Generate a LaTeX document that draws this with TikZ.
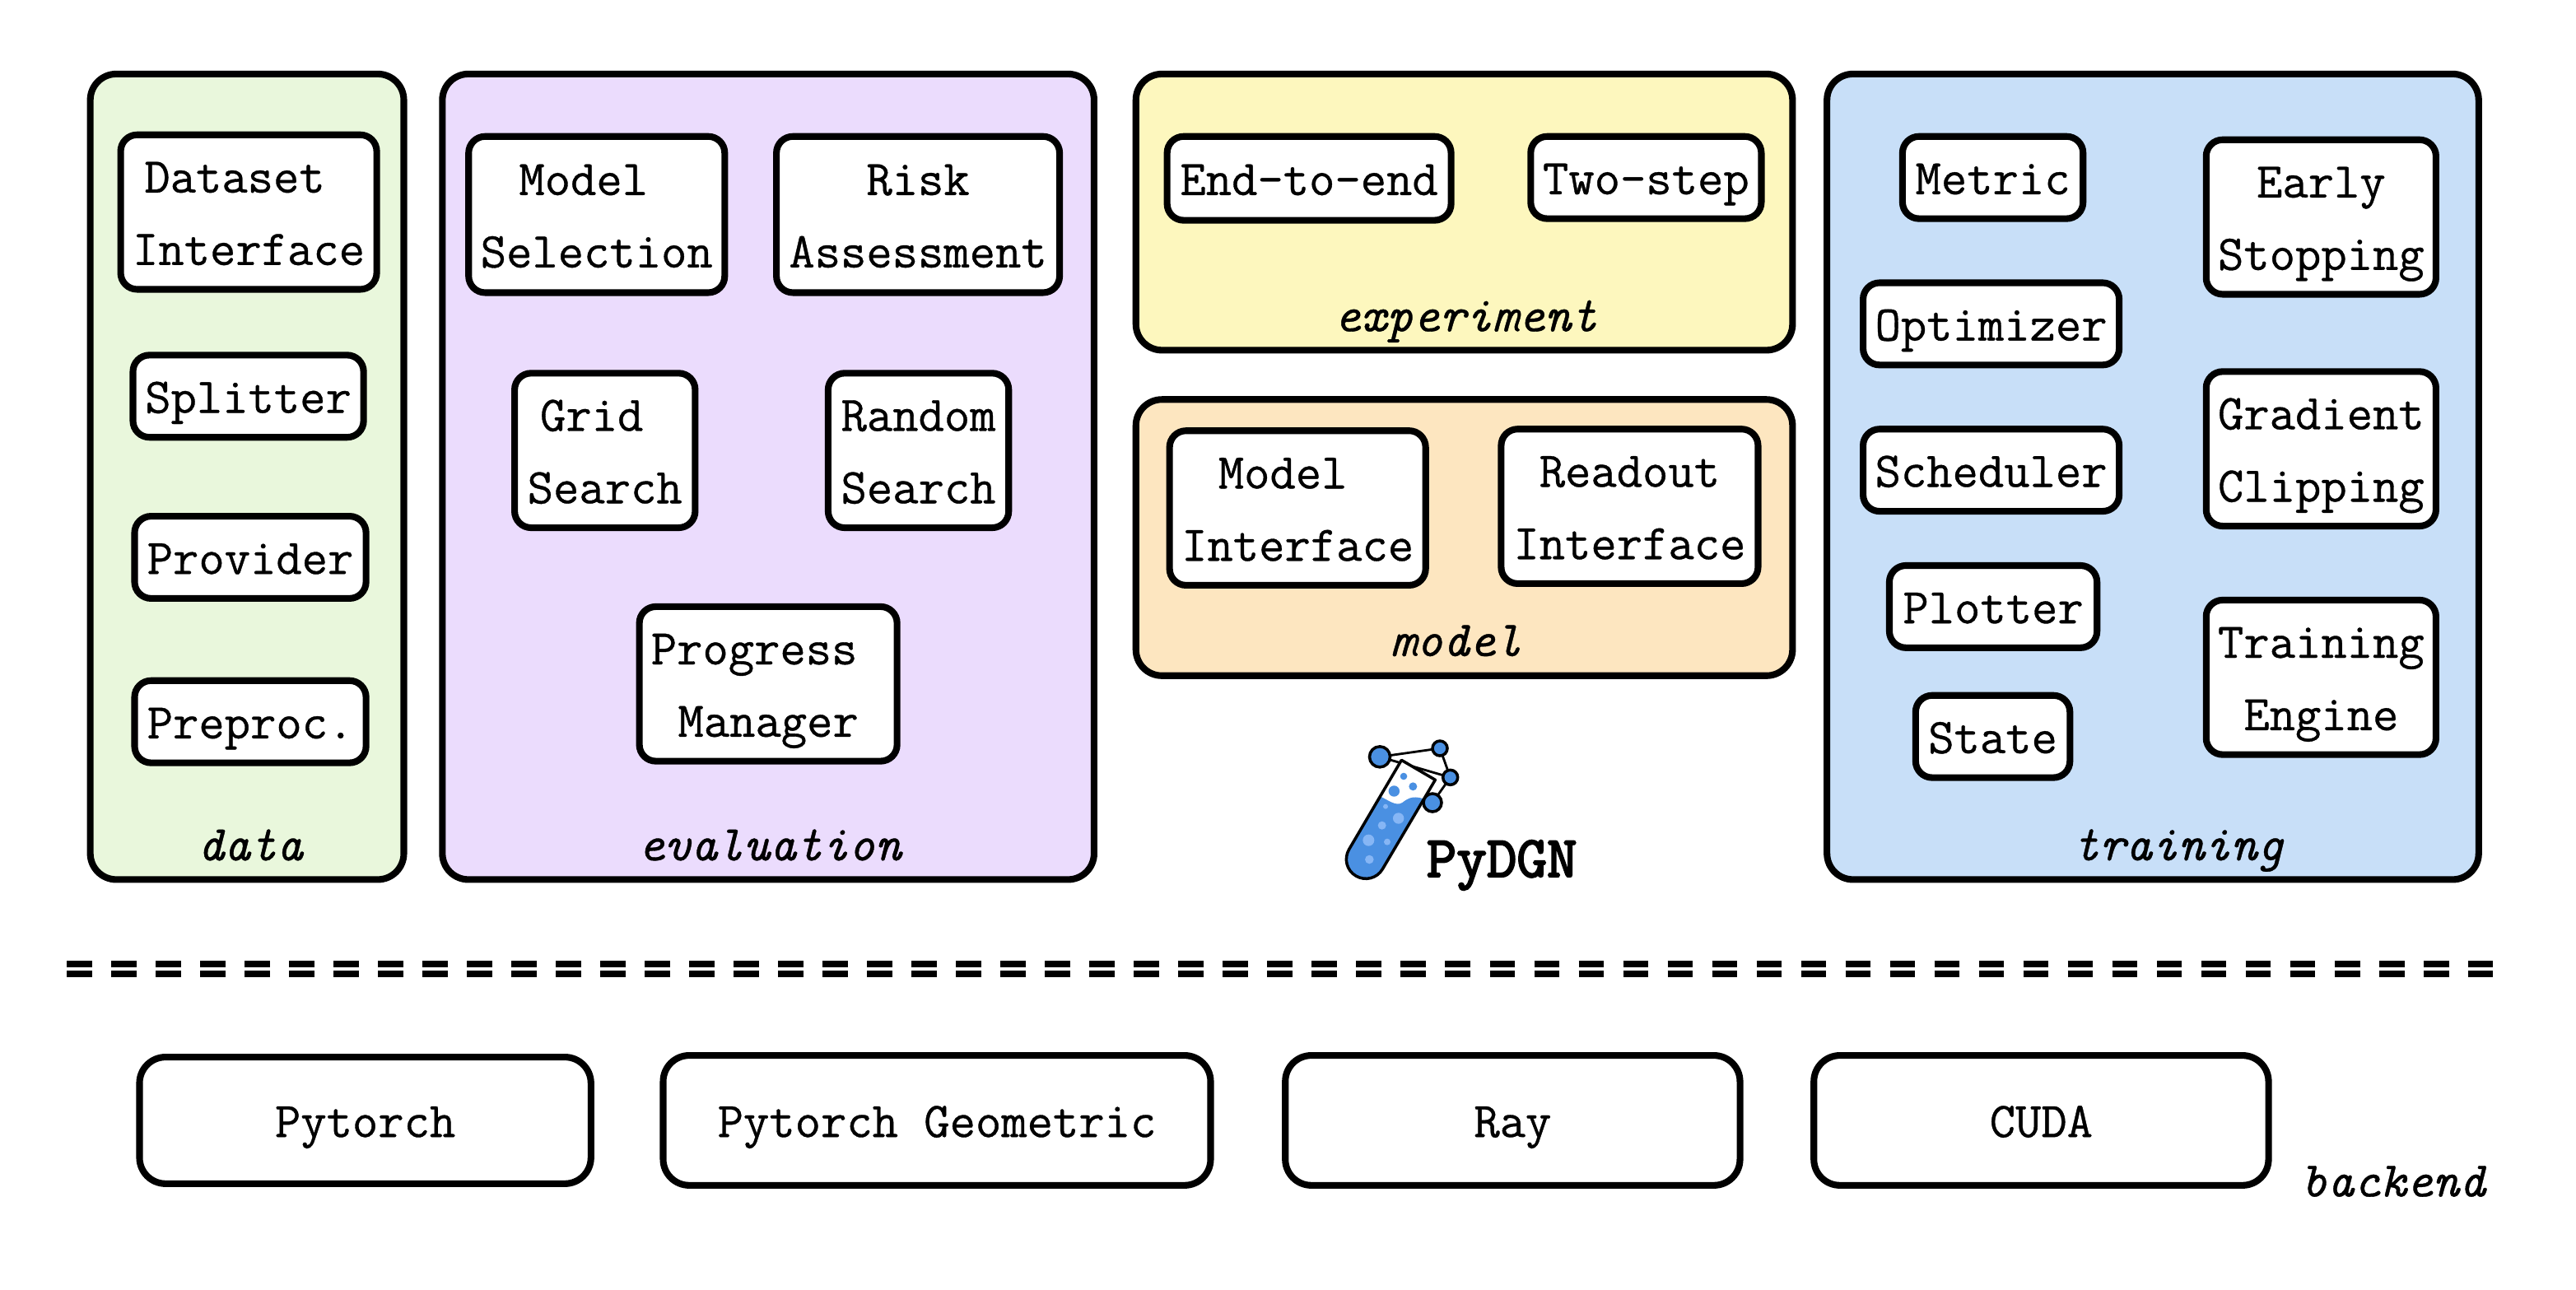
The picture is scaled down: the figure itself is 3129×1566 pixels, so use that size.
\documentclass[tikz,border=0pt]{standalone}
\usepackage{fontspec}
\newfontfamily\ttreg{Latin Modern Mono}[FakeBold=0.6,ItalicFeatures={FakeBold=0.6}]
\newfontfamily\ttlogo{Latin Modern Mono}[FakeBold=3]
\usetikzlibrary{calc}
\definecolor{cdata}{HTML}{E9F7DC}
\definecolor{ceval}{HTML}{EBDCFD}
\definecolor{cexp}{HTML}{FDF7BE}
\definecolor{cmodel}{HTML}{FDE6C0}
\definecolor{ctrain}{HTML}{C8DFF8}
\definecolor{lblue}{HTML}{4A90E2}
\definecolor{lpale}{HTML}{86B6F5}
\newcommand{\shl}[2]{\hbox{\kern#1\dimexpr0.2845pt\relax #2\kern-#1\dimexpr0.2845pt\relax}}
\newcommand{\st}{\vrule width 0pt height 15.5pt depth 4pt\relax}
\newcommand{\ibox}[6]{%
  \pgfmathsetmacro{\bxw}{(#4-#2)*0.00997}\pgfmathsetmacro{\bxh}{(#5-#3)*0.009975}%
  \node[innerbox,minimum width=\bxw cm,minimum height=\bxh cm] (#1) at ({(#2+#4)/2},{(#3+#5)/2}) {\leavevmode\st #6\st};}
\newcommand{\obox}[6]{%
  \pgfmathsetmacro{\bxw}{(#4-#2)*0.00997}\pgfmathsetmacro{\bxh}{(#5-#3)*0.009975}%
  \node[outerbox,fill=#6,minimum width=\bxw cm,minimum height=\bxh cm] (#1) at ({(#2+#4)/2},{(#3+#5)/2}) {};}
\tikzset{
  innerbox/.style={draw=black,fill=white,line width=2.3pt,rounded corners=5.7pt,inner sep=0pt,align=center,
    font=\ttreg\fontsize{17.3}{25}\selectfont},
  outerbox/.style={draw=black,line width=2.3pt,rounded corners=9pt,inner sep=0pt},
  grouplabel/.style={anchor=base,inner sep=0pt,font=\ttreg\itshape\fontsize{17.3}{25}\selectfont},
  sepline/.style={line width=2.3pt,dash pattern=on 8.73pt off 6.63pt},
}
\begin{document}
\begin{tikzpicture}[x=0.01cm,y=-0.01cm]
\useasboundingbox (0,0) rectangle (3129,1566);
\begin{scope}[x=0.00997cm,y=-0.009975cm]
\obox{data}{110}{90}{492}{1070}{cdata}
\obox{evaluation}{539}{90}{1333}{1070}{ceval}
\obox{experiment}{1384}{90}{2184}{426}{cexp}
\obox{model}{1384}{486}{2184}{822}{cmodel}
\obox{training}{2226}{90}{3020}{1070}{ctrain}
\ibox{dsi}{147}{164}{459}{352}{\shl{-17}{Dataset}\\Interface}
\ibox{spl}{162}{432}{443}{532}{Splitter}
\ibox{prov}{164}{628}{446}{728}{Provider}
\ibox{prep}{164}{828}{446}{928}{Preproc.}
\ibox{msel}{571}{166}{883}{356}{\shl{-16}{Model}\\Selection}
\ibox{risk}{946}{166}{1291}{356}{Risk\\Assessment}
\ibox{grid}{627}{454}{847}{642}{\shl{-16}{Grid}\\Search}
\ibox{rand}{1009}{454}{1229}{642}{Random\\Search}
\ibox{prog}{779}{738}{1093}{926}{\shl{-17}{Progress}\\Manager}
\ibox{e2e}{1422}{166}{1768}{268}{End-to-end}
\ibox{two}{1865}{166}{2146}{266}{Two-step}
\ibox{mint}{1425}{524}{1737}{712}{\shl{-18}{Model}\\Interface}
\ibox{rint}{1829}{522}{2142}{710}{Readout\\Interface}
\ibox{metric}{2318}{166}{2538}{266}{Metric}
\ibox{opt}{2270}{344}{2582}{444}{Optimizer}
\ibox{sched}{2270}{522}{2582}{622}{Scheduler}
\ibox{plot}{2302}{688}{2555}{788}{Plotter}
\ibox{state}{2334}{846}{2522}{946}{State}
\ibox{early}{2688}{170}{2968}{358}{Early\\Stopping}
\ibox{grad}{2688}{452}{2968}{640}{Gradient\\Clipping}
\ibox{teng}{2688}{730}{2968}{918}{Training\\Engine}
\tikzset{innerbox/.append style={rounded corners=9pt}}
\ibox{pt}{170}{1286}{720}{1440}{Pytorch}
\ibox{ptg}{808}{1284}{1475}{1442}{Pytorch Geometric}
\ibox{ray}{1566}{1284}{2120}{1442}{Ray}
\ibox{cuda}{2210}{1284}{2764}{1442}{CUDA}
\node[grouplabel] (ldata) at (305,1046.6) {data};
\node[grouplabel] (leval) at (938,1046.6) {evaluation};
\node[grouplabel] (lexp) at (1786,403) {experiment};
\node[grouplabel] (lmodel) at (1774,798) {model};
\node[grouplabel] (ltrain) at (2654,1046.5) {training};
\node[grouplabel] (lback) at (2916,1455.6) {backend};
\end{scope}
\coordinate (sepL) at (81,1171);
\coordinate (sepR) at (3028,1171);
\draw[sepline] (sepL) -- (sepR);
\draw[sepline] ($(sepL)+(0,12)$) -- ($(sepR)+(0,12)$);
% logo
\begin{scope}[shift={(1580,860)},x=0.01cm/3,y=-0.01cm/3]
\coordinate (ca) at (288,178); \coordinate (cb) at (507,147);
\coordinate (cc) at (545,253); \coordinate (cd) at (480,345);
\draw[line width=0.8pt] (ca)--(cb)--(cc)--(cd) (ca)--(cc);
\def\tube{(367,190) -- (176,515) .. controls (156,549) and (167,592) .. (201,612) .. controls (235,632) and (278,621) .. (298,587) -- (490,262) -- cycle}
\fill[white] \tube;
\begin{scope}
\clip \tube;
\fill[lblue] (280,318) .. controls (320,335) and (345,360) .. (370,345) .. controls (395,325) and (415,318) .. (460,335) -- (460,700) -- (100,700) -- (100,318) -- cycle;
\fill[lblue] (375,249) circle[radius=0.043cm];
\fill[lblue] (409,286) circle[radius=0.05cm];
\fill[lblue] (340,303) circle[radius=0.067cm];
\fill[lpale] (309,359) circle[radius=0.03cm];
\fill[lpale] (356,402) circle[radius=0.067cm];
\fill[lpale] (296,428) circle[radius=0.05cm];
\fill[lpale] (247,482) circle[radius=0.07cm];
\fill[lpale] (315,488) circle[radius=0.04cm];
\fill[lpale] (250,552) circle[radius=0.053cm];
\end{scope}
\draw[line width=1pt,line join=round] \tube;
\draw[line width=1pt,fill=lblue] (ca) circle[radius=0.125cm];
\draw[line width=1pt,fill=lblue] (cb) circle[radius=0.09cm];
\draw[line width=1pt,fill=lblue] (cc) circle[radius=0.09cm];
\draw[line width=1pt,fill=lblue] (cd) circle[radius=0.11cm];
\end{scope}
\node[anchor=base west,inner sep=0pt,font=\ttlogo\fontsize{20.2}{24}\selectfont] (pydgn) at (1732,1065) {PyDGN};
\end{tikzpicture}
\end{document}
